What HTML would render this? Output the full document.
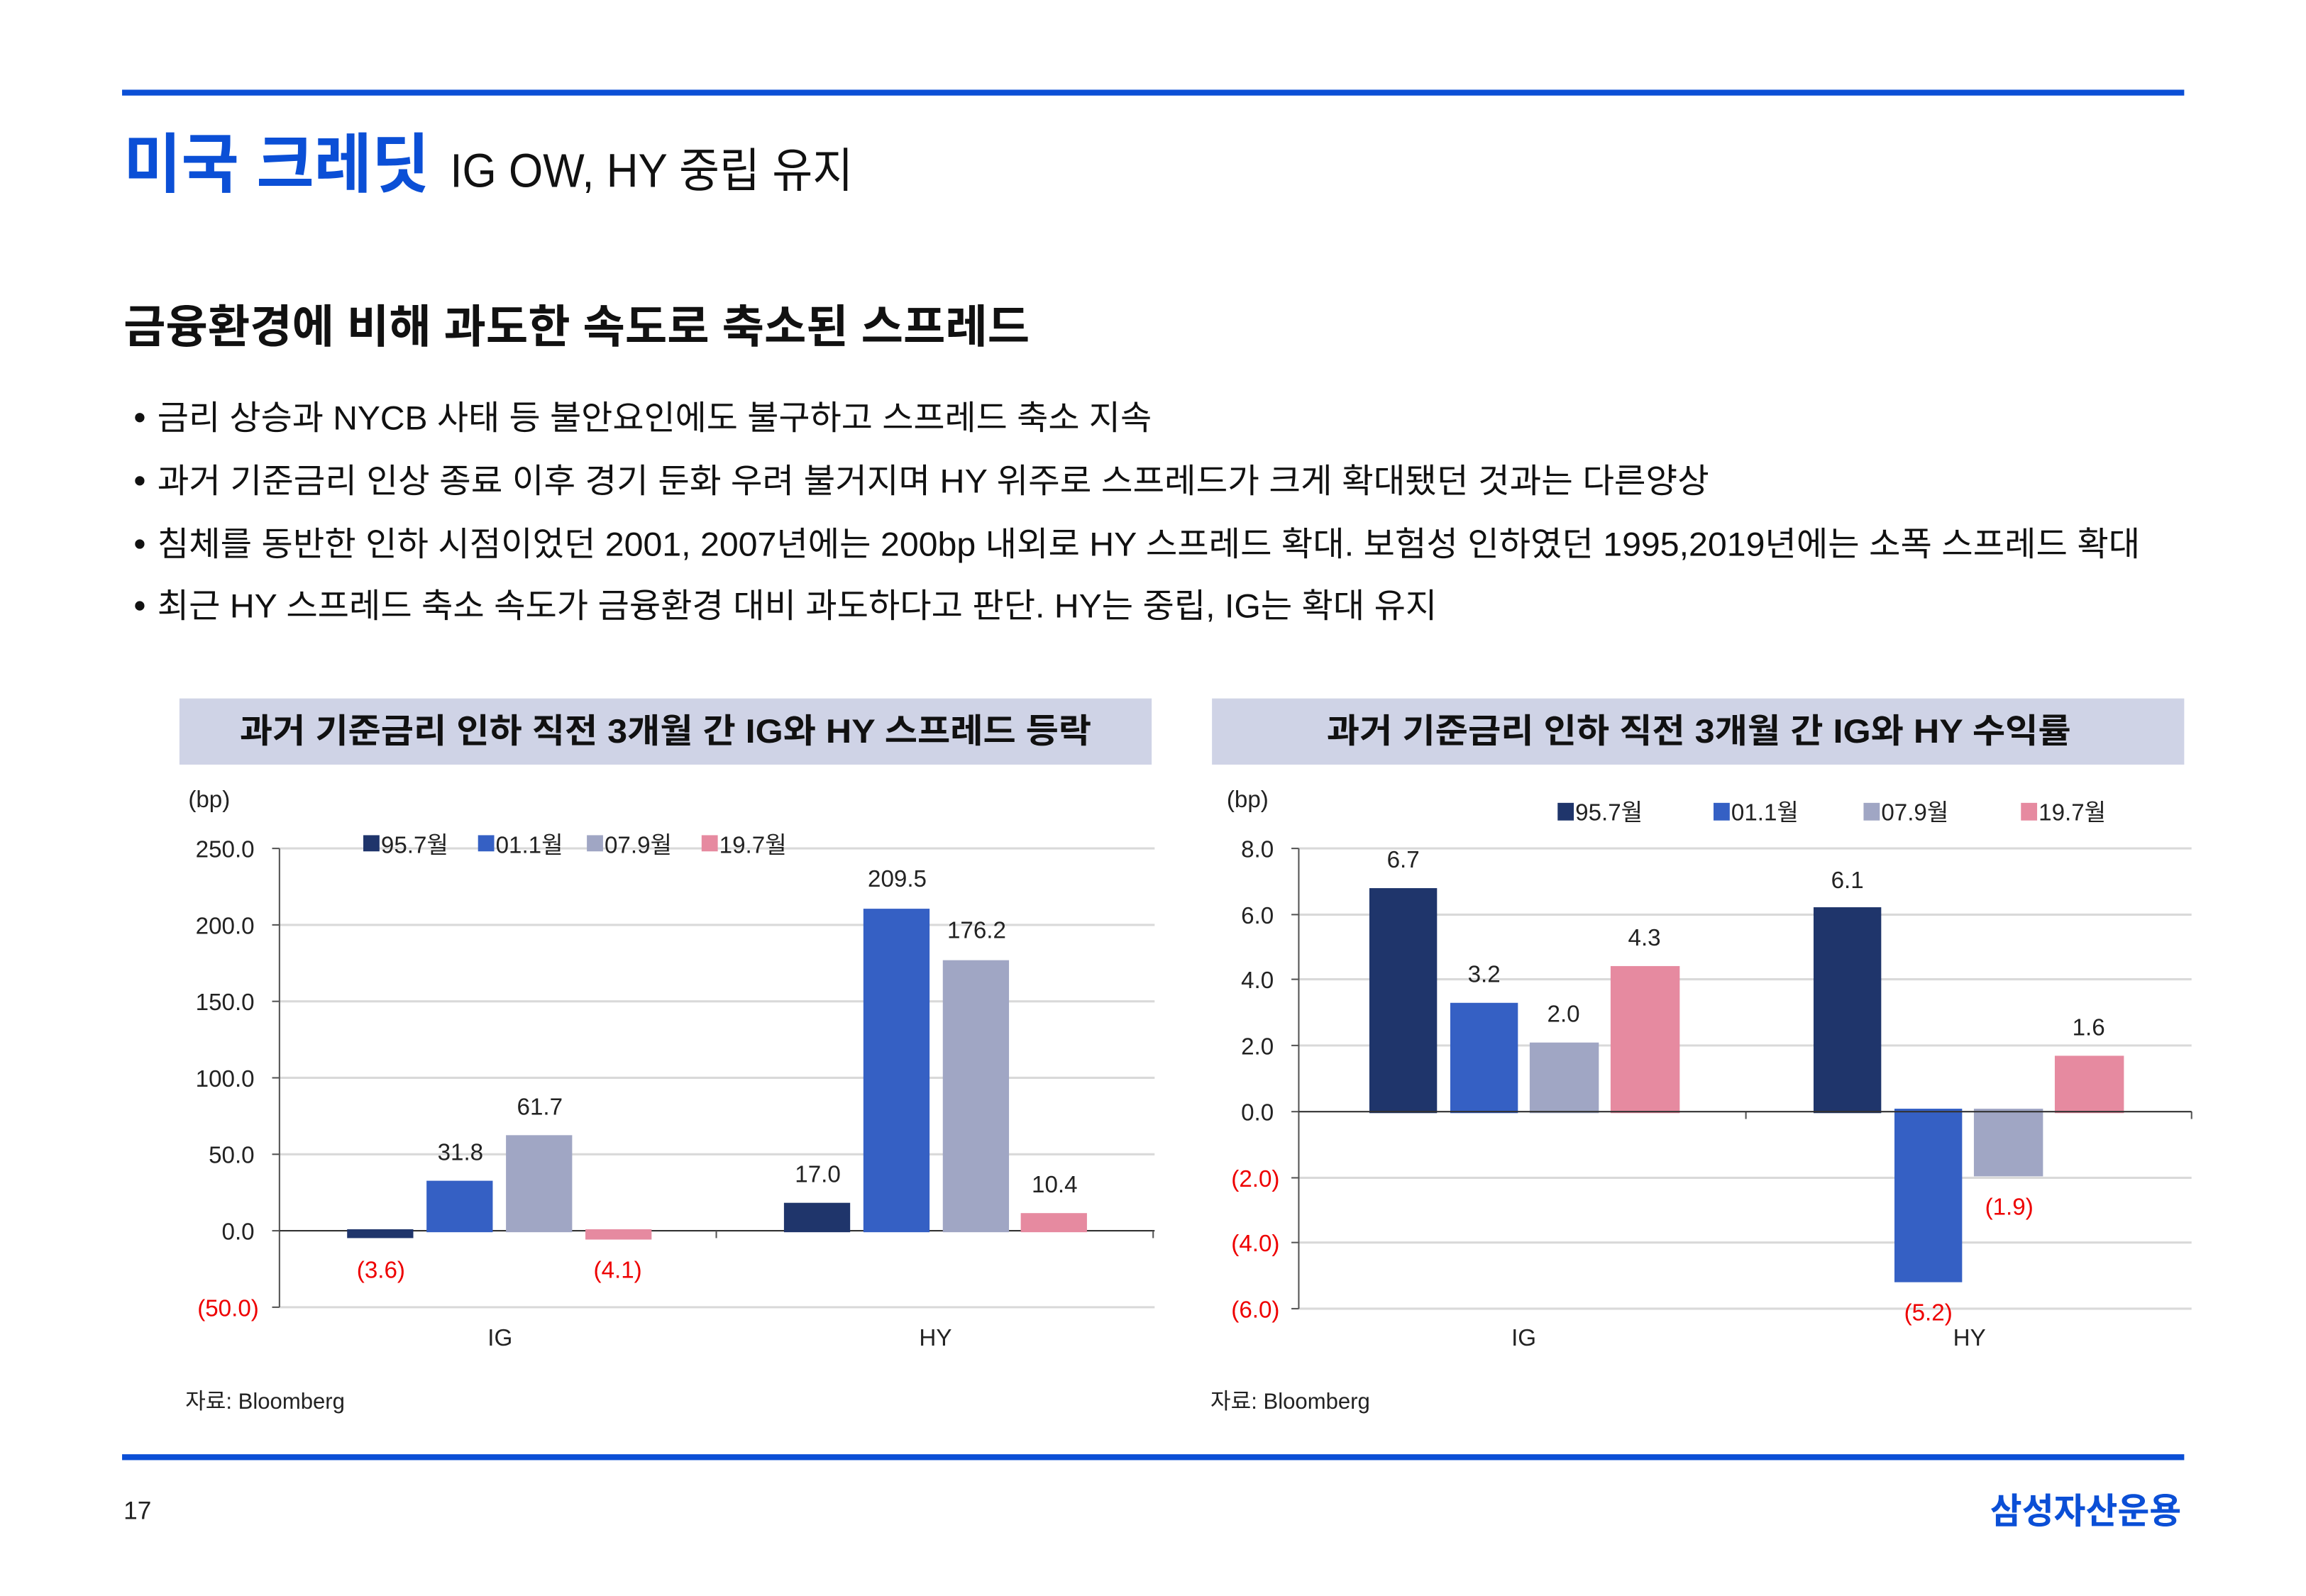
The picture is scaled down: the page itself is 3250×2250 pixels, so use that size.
<!DOCTYPE html>
<html><head><meta charset="utf-8"><style>
html,body{margin:0;padding:0;background:#fff;}
svg{display:block;}
text{font-family:"Liberation Sans","Noto Sans CJK KR",sans-serif;}
</style></head><body>
<svg width="3250" height="2250" viewBox="0 0 1567.8 1085.4" preserveAspectRatio="none" xmlns="http://www.w3.org/2000/svg">
<rect width="1570" height="1090" fill="#fff"/>
<rect x="83" y="61" width="1402" height="4" fill="#0b4fd6"/>
<rect x="83" y="989" width="1402" height="4" fill="#0b4fd6"/>
<text x="84" y="127" font-size="44" font-weight="bold" fill="#0b4fd6" textLength="208" lengthAdjust="spacingAndGlyphs">미국 크레딧</text>
<text x="306" y="127" font-size="32" fill="#111" textLength="274" lengthAdjust="spacingAndGlyphs">IG OW, HY 중립 유지</text>
<text x="84" y="233" font-size="31" font-weight="bold" fill="#111" textLength="616" lengthAdjust="spacingAndGlyphs">금융환경에 비해 과도한 속도로 축소된 스프레드</text>
<g font-size="23" fill="#111">
<circle cx="95" cy="284" r="3.2" fill="#111"/>
<text x="107" y="292" textLength="676" lengthAdjust="spacingAndGlyphs">금리 상승과 NYCB 사태 등 불안요인에도 불구하고 스프레드 축소 지속</text>
<circle cx="95" cy="327" r="3.2" fill="#111"/>
<text x="107" y="335" textLength="1055" lengthAdjust="spacingAndGlyphs">과거 기준금리 인상 종료 이후 경기 둔화 우려 불거지며 HY 위주로 스프레드가 크게 확대됐던 것과는 다른양상</text>
<circle cx="95" cy="370" r="3.2" fill="#111"/>
<text x="107" y="378" textLength="1348" lengthAdjust="spacingAndGlyphs">침체를 동반한 인하 시점이었던 2001, 2007년에는 200bp 내외로 HY 스프레드 확대. 보험성 인하였던 1995,2019년에는 소폭 스프레드 확대</text>
<circle cx="95" cy="412" r="3.2" fill="#111"/>
<text x="107" y="420" textLength="870" lengthAdjust="spacingAndGlyphs">최근 HY 스프레드 축소 속도가 금융환경 대비 과도하다고 판단. HY는 중립, IG는 확대 유지</text>
</g>
<rect x="122" y="475" width="661" height="45" fill="#cfd3e6"/>
<text x="163" y="505" font-size="23" font-weight="bold" fill="#111" textLength="579" lengthAdjust="spacingAndGlyphs">과거 기준금리 인하 직전 3개월 간 IG와 HY 스프레드 등락</text>
<rect x="824" y="475" width="661" height="45" fill="#cfd3e6"/>
<text x="902" y="505" font-size="23" font-weight="bold" fill="#111" textLength="506" lengthAdjust="spacingAndGlyphs">과거 기준금리 인하 직전 3개월 간 IG와 HY 수익률</text>

<g stroke="#d9d9d9" stroke-width="1.5">
<line x1="190" y1="577" x2="785" y2="577"/><line x1="190" y1="629" x2="785" y2="629"/>
<line x1="190" y1="681" x2="785" y2="681"/><line x1="190" y1="733" x2="785" y2="733"/>
<line x1="190" y1="785" x2="785" y2="785"/><line x1="190" y1="889" x2="785" y2="889"/>
</g>
<g stroke="#555" stroke-width="1">
<line x1="190" y1="577" x2="190" y2="889"/>
<line x1="185" y1="577" x2="190" y2="577"/><line x1="185" y1="629" x2="190" y2="629"/><line x1="185" y1="681" x2="190" y2="681"/><line x1="185" y1="733" x2="190" y2="733"/><line x1="185" y1="785" x2="190" y2="785"/><line x1="185" y1="837" x2="190" y2="837"/><line x1="185" y1="889" x2="190" y2="889"/>
<line x1="190" y1="837" x2="785" y2="837" stroke="#333"/>
<line x1="487" y1="837" x2="487" y2="842"/><line x1="784" y1="837" x2="784" y2="842"/>
</g>
<g font-size="16" fill="#222" text-anchor="end">
<text x="173" y="583">250.0</text><text x="173" y="635">200.0</text><text x="173" y="687">150.0</text>
<text x="173" y="739">100.0</text><text x="173" y="791">50.0</text><text x="173" y="843">0.0</text>
<text x="176" y="895" fill="#e00">(50.0)</text>
</g>
<text x="128" y="549" font-size="16" fill="#222">(bp)</text>
<g font-size="16" fill="#222">
<rect x="247" y="568" width="11" height="11" fill="#1f356b"/><text x="259" y="580">95.7월</text>
<rect x="325" y="568" width="11" height="11" fill="#3560c4"/><text x="337" y="580">01.1월</text>
<rect x="399" y="568" width="11" height="11" fill="#a0a6c4"/><text x="411" y="580">07.9월</text>
<rect x="477" y="568" width="11" height="11" fill="#e68aa0"/><text x="489" y="580">19.7월</text>
</g>
<rect x="236" y="836" width="45" height="6" fill="#1f356b"/>
<rect x="290" y="803" width="45" height="35" fill="#3560c4"/>
<rect x="344" y="772" width="45" height="66" fill="#a0a6c4"/>
<rect x="398" y="836" width="45" height="7" fill="#e68aa0"/>
<rect x="533" y="818" width="45" height="20" fill="#1f356b"/>
<rect x="587" y="618" width="45" height="220" fill="#3560c4"/>
<rect x="641" y="653" width="45" height="185" fill="#a0a6c4"/>
<rect x="694" y="825" width="45" height="13" fill="#e68aa0"/>
<g font-size="16" fill="#222" text-anchor="middle">
<text x="259" y="869" fill="#e00">(3.6)</text><text x="313" y="789">31.8</text><text x="367" y="758">61.7</text>
<text x="420" y="869" fill="#e00">(4.1)</text>
<text x="556" y="804">17.0</text><text x="610" y="603">209.5</text><text x="664" y="638">176.2</text><text x="717" y="811">10.4</text>
<text x="340" y="915">IG</text><text x="636" y="915">HY</text>
</g>
<text x="126" y="958" font-size="15" fill="#222">자료: Bloomberg</text>

<g stroke="#d9d9d9" stroke-width="1.5">
<line x1="883" y1="577" x2="1490" y2="577"/><line x1="883" y1="622" x2="1490" y2="622"/>
<line x1="883" y1="666" x2="1490" y2="666"/><line x1="883" y1="711" x2="1490" y2="711"/>
<line x1="883" y1="801" x2="1490" y2="801"/><line x1="883" y1="845" x2="1490" y2="845"/>
<line x1="883" y1="890" x2="1490" y2="890"/>
</g>
<g stroke="#555" stroke-width="1">
<line x1="883" y1="577" x2="883" y2="890"/>
<line x1="878" y1="577" x2="883" y2="577"/><line x1="878" y1="622" x2="883" y2="622"/><line x1="878" y1="666" x2="883" y2="666"/><line x1="878" y1="711" x2="883" y2="711"/><line x1="878" y1="756" x2="883" y2="756"/><line x1="878" y1="801" x2="883" y2="801"/><line x1="878" y1="845" x2="883" y2="845"/><line x1="878" y1="890" x2="883" y2="890"/>
<line x1="1187" y1="756" x2="1187" y2="761"/><line x1="1490" y1="756" x2="1490" y2="761"/>
</g>
<g font-size="16" fill="#222" text-anchor="end">
<text x="866" y="583">8.0</text><text x="866" y="628">6.0</text><text x="866" y="672">4.0</text>
<text x="866" y="717">2.0</text><text x="866" y="762">0.0</text>
<text x="870" y="807" fill="#e00">(2.0)</text><text x="870" y="851" fill="#e00">(4.0)</text><text x="870" y="896" fill="#e00">(6.0)</text>
</g>
<text x="834" y="549" font-size="16" fill="#222">(bp)</text>
<g font-size="16" fill="#222">
<rect x="1059" y="546" width="11" height="12" fill="#1f356b"/><text x="1071" y="558">95.7월</text>
<rect x="1165" y="546" width="11" height="12" fill="#3560c4"/><text x="1177" y="558">01.1월</text>
<rect x="1267" y="546" width="11" height="12" fill="#a0a6c4"/><text x="1279" y="558">07.9월</text>
<rect x="1374" y="546" width="11" height="12" fill="#e68aa0"/><text x="1386" y="558">19.7월</text>
</g>
<rect x="931" y="604" width="46" height="153" fill="#1f356b"/>
<rect x="986" y="682" width="46" height="75" fill="#3560c4"/>
<rect x="1040" y="709" width="47" height="48" fill="#a0a6c4"/>
<rect x="1095" y="657" width="47" height="100" fill="#e68aa0"/>
<rect x="1233" y="617" width="46" height="140" fill="#1f356b"/>
<rect x="1288" y="754" width="46" height="118" fill="#3560c4"/>
<rect x="1342" y="754" width="47" height="46" fill="#a0a6c4"/>
<rect x="1397" y="718" width="47" height="39" fill="#e68aa0"/>
<line x1="883" y1="756" x2="1490" y2="756" stroke="#333" stroke-width="1"/>
<g font-size="16" fill="#222" text-anchor="middle">
<text x="954" y="590">6.7</text><text x="1009" y="668">3.2</text><text x="1063" y="695">2.0</text><text x="1118" y="643">4.3</text>
<text x="1256" y="604">6.1</text><text x="1311" y="898" fill="#e00">(5.2)</text><text x="1366" y="826" fill="#e00">(1.9)</text><text x="1420" y="704">1.6</text>
<text x="1036" y="915">IG</text><text x="1339" y="915">HY</text>
</g>
<text x="823" y="958" font-size="15" fill="#222">자료: Bloomberg</text>

<text x="84" y="1033" font-size="17" fill="#222">17</text>
<text x="1483" y="1036" font-size="24" font-weight="bold" fill="#0b4fd6" text-anchor="end" textLength="130" lengthAdjust="spacingAndGlyphs">삼성자산운용</text>
</svg>
</body></html>
